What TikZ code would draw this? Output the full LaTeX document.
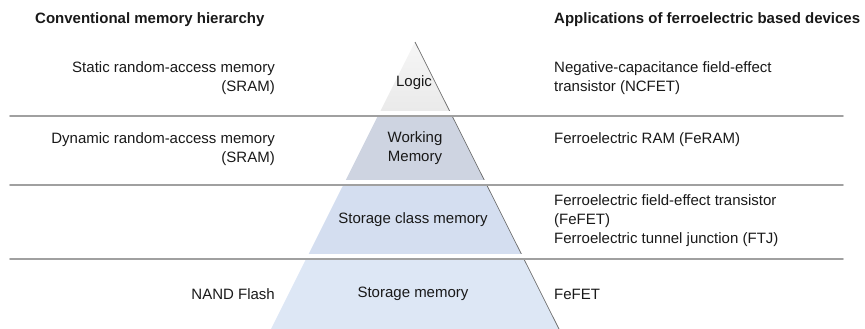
\documentclass[tikz,border=0pt]{standalone}
\usepackage{fontspec}
\setmainfont{Liberation Sans}
\usepackage{tikz}
\usetikzlibrary{positioning}

\definecolor{logicgray}{HTML}{E9E9E9}
\definecolor{workfill}{HTML}{CED4E1}
\definecolor{classfill}{HTML}{D4DEF0}
\definecolor{storefill}{HTML}{DDE7F5}
\definecolor{sepgray}{HTML}{A0A0A0}
\definecolor{edgegray}{HTML}{6E6E6E}

\tikzset{
  txt/.style={font=\fontsize{15}{19}\selectfont, inner sep=0pt, text=black!90},
  lefttxt/.style={txt, anchor=east, align=right},
  righttxt/.style={txt, anchor=west, align=left},
  midtxt/.style={txt, align=center},
  head/.style={txt, anchor=west, font=\fontsize{15}{19}\selectfont\bfseries},
  sepline/.style={sepgray, line width=1.6pt, line cap=round}
}

\begin{document}
\begin{tikzpicture}[x=1pt, y=-1pt]
      \useasboundingbox (0,0) rectangle (865,329);
      \coordinate (apex) at (415,42);
      \coordinate (bl) at (271,329);
      \coordinate (br) at (559,329);

      % pyramid bands
      \begin{scope}
        \clip (apex) -- (br) -- (bl) -- cycle;
        \shade[top color=logicgray!40, bottom color=logicgray] (0,40) rectangle (865,116);
        \fill[workfill] (0,116) rectangle (865,185);
        \fill[classfill] (0,185) rectangle (865,259);
        \fill[storefill] (0,259) rectangle (865,329);
      \end{scope}
      \draw[edgegray, line width=0.7pt] (apex) -- (br); % shadow edge

      % separators
      \foreach \y in {116,185,259} {
        \fill[white] (0,\y-5) rectangle (865,\y-0.8);
        \draw[sepline] (10,\y) -- (843,\y);
      }

      % headers
      \node[head] (hleft) at (35,20) {Conventional memory hierarchy};
      \node[head] (hright) at (554,20) {Applications of ferroelectric based devices};

      % pyramid levels
      \node[midtxt] (logic) at (414,83) {Logic};
      \node[midtxt] (work) at (415,148) {Working\\Memory};
      \node[midtxt] (scm) at (413,220) {Storage class memory};
      \node[midtxt] (sm) at (413,294) {Storage memory};

      % conventional memories
      \node[lefttxt] (sram) at (275,78) {Static random-access memory\\(SRAM)};
      \node[lefttxt] (dram) at (275,149) {Dynamic random-access memory\\(SRAM)};
      \node[lefttxt] (nand) at (275,294) {NAND Flash};

      % ferroelectric devices
      \node[righttxt] (ncfet) at (554,78) {Negative-capacitance field-effect\\transistor (NCFET)};
      \node[righttxt] (feram) at (554,140) {Ferroelectric RAM (FeRAM)};
      \node[righttxt] (fefet) at (554,221) {Ferroelectric field-effect transistor\\(FeFET)\\Ferroelectric tunnel junction (FTJ)};
      \node[righttxt] (fefetb) at (554,294) {FeFET};
\end{tikzpicture}
\end{document}
